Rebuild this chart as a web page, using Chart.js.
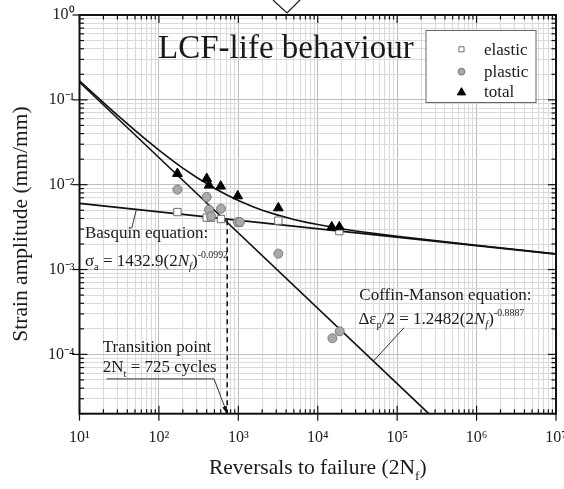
<!DOCTYPE html>
<html><head><meta charset="utf-8">
<script src="https://cdn.jsdelivr.net/npm/chart.js@4/dist/chart.umd.min.js"></script>
<style>html,body{margin:0;padding:0;background:#fff}#wrap{width:564px;height:489px;position:relative}</style>
</head><body><div id="wrap"><canvas id="c"></canvas></div>
<script>
// ---- data ----
const elasticN = [171, 400, 453, 605, 1020, 3190, 18700];
const elasticStrain = [0.00476, 0.00409, 0.00409, 0.00394, 0.00357, 0.00377, 0.00284];
const plasticN = [171, 400, 428, 453, 605, 982, 1050, 3190, 15300, 18900];
const plasticStrain = [0.00875, 0.00716, 0.00508, 0.00424, 0.00522, 0.00363, 0.00363, 0.00154, 0.000155, 0.000187];
const totalN = [171, 400, 428, 600, 982, 3190, 15000, 18700];
const totalStrain = [0.01352, 0.0118, 0.00984, 0.00958, 0.00736, 0.00531, 0.00317, 0.00317];

const basquinN = [10, 1e7];
const basquinStrain = [0.00603, 0.00152];
const coffinN = [10, 2.5e5];
const coffinStrain = [0.1613, 2e-5];
const totalFitN = [10, 15, 20, 30, 50, 70, 100, 150, 200, 300, 500, 700, 1000, 1500, 2000, 3000, 5000, 7000, 1e4, 2e4, 3e4, 5e4, 1e5, 1e6, 1e7];
const totalFitStrain = [0.167, 0.1182, 0.0927, 0.0662, 0.0437, 0.0336, 0.0256, 0.01914, 0.0157, 0.01215, 0.00907, 0.00765, 0.00651, 0.00554, 0.00501, 0.00444, 0.00389, 0.00362, 0.00339, 0.00302, 0.00285, 0.00267, 0.00246, 0.00193, 0.00153];
const transitionN = [725, 725];
const transitionStrain = [0.0038, 2e-5];

const xTickLabels = ['10¹', '10²', '10³', '10⁴', '10⁵', '10⁶', '10⁷'];
const xTickExps = [1, 2, 3, 4, 5, 6, 7];
const yTickLabels = ['10⁻⁴', '10⁻³', '10⁻²', '10⁻¹', '10⁰'];
const yTickExps = [-4, -3, -2, -1, 0];
const legendLabels = ['elastic', 'plastic', 'total'];

const pts = (xs, ys) => xs.map((v, i) => ({x: v, y: ys[i]}));
const SERIF = '"Liberation Serif", "Times New Roman", serif';

function decadeOf(v) {
  const e = Math.round(Math.log10(v));
  return Math.abs(v / Math.pow(10, e) - 1) < 1e-6 ? e : null;
}
function buildLogTicks(scale, min, max) {
  const t = [];
  for (let e = Math.floor(Math.log10(min)); e <= Math.ceil(Math.log10(max)); e++) {
    for (let s = 1; s <= 9; s++) {
      const v = parseFloat((s * Math.pow(10, e)).toPrecision(6));
      if (v >= min * 0.9999 && v <= max * 1.0001) t.push({value: v, major: s === 1});
    }
  }
  scale.ticks = t;
}

const styles = {
  elastic: {pointStyle: 'rect', bg: '#ffffff', border: '#6e6e6e', r: 5.2, lr: 3.6},
  plastic: {pointStyle: 'circle', bg: '#a9a9a9', border: '#7a7a7a', r: 4.5, lr: 3.4},
  total: {pointStyle: 'triangle', bg: '#000000', border: '#000000', r: 5.6, lr: 4.8}
};

function rich(ctx, x, y, parts, size) {
  let cx = x;
  ctx.textBaseline = 'alphabetic';
  ctx.textAlign = 'left';
  for (const p of parts) {
    let fs = size, dy = 0;
    if (p.sub) { fs = size * 0.62; dy = size * 0.26; }
    if (p.sup) { fs = size * 0.58; dy = -size * 0.45; }
    ctx.font = (p.it ? 'italic ' : '') + fs + 'px ' + SERIF;
    ctx.fillText(p.t, cx, y + dy);
    cx += ctx.measureText(p.t).width;
  }
  return cx;
}

const decor = {
  id: 'decor',
  beforeDatasetsDraw(chart) {
    const {ctx, chartArea: a, scales: {x, y}} = chart;
    ctx.save();
    ctx.strokeStyle = '#111';
    ctx.lineWidth = 1.2;
    const seg = (x1, y1, x2, y2) => { ctx.beginPath(); ctx.moveTo(x1, y1); ctx.lineTo(x2, y2); ctx.stroke(); };
    x.ticks.forEach(t => {
      const p = x.getPixelForValue(t.value);
      const maj = decadeOf(t.value) !== null;
      const len = maj ? 8 : 4.5;
      seg(p, a.bottom, p, a.bottom - len);
      if (maj) seg(p, a.bottom, p, a.bottom + 7);
      seg(p, a.top, p, a.top + len);
    });
    y.ticks.forEach(t => {
      const p = y.getPixelForValue(t.value);
      const maj = decadeOf(t.value) !== null;
      const len = maj ? 8 : 4.5;
      seg(a.left, p, a.left + len, p);
      if (maj) seg(a.left, p, a.left - 7, p);
      seg(a.right, p, a.right - len, p);
    });
    ctx.lineWidth = 2;
    ctx.strokeRect(a.left, a.top, a.right - a.left, a.bottom - a.top);
    ctx.restore();
  },
  afterDraw(chart) {
    const {ctx, chartArea: a, scales: {x, y}} = chart;
    const P = (xv, yv) => [x.getPixelForValue(xv), y.getPixelForValue(yv)];
    ctx.save();
    ctx.fillStyle = '#1a1a1a';
    ctx.strokeStyle = '#1a1a1a';

    // chevron at top
    ctx.lineWidth = 1.2;
    ctx.beginPath(); ctx.moveTo(273, 0); ctx.lineTo(287, 13); ctx.lineTo(300, 0); ctx.stroke();

    // big title inside plot
    let q = P(97.5, 0.308);
    ctx.font = '33px ' + SERIF; ctx.textAlign = 'left'; ctx.textBaseline = 'alphabetic';
    ctx.fillText('LCF-life behaviour', q[0], q[1]);

    // Basquin
    q = P(11.7, 2.33e-3);
    rich(ctx, q[0], q[1], [{t: 'Basquin equation:'}], 17);
    q = P(11.7, 1.10e-3);
    rich(ctx, q[0], q[1], [{t: 'σ'}, {t: 'a', sub: 1}, {t: ' = 1432.9(2'}, {t: 'N', it: 1}, {t: 'f', sub: 1, it: 1}, {t: ')'}, {t: '-0.0992', sup: 1}], 17);
    // Coffin-Manson
    q = P(3.34e4, 4.32e-4);
    rich(ctx, q[0], q[1], [{t: 'Coffin-Manson equation:'}], 17);
    q = P(3.25e4, 2.29e-4);
    rich(ctx, q[0], q[1], [{t: 'Δε'}, {t: 'p', sub: 1}, {t: '/2 = 1.2482(2'}, {t: 'N', it: 1}, {t: 'f', sub: 1, it: 1}, {t: ')'}, {t: '-0.8887', sup: 1}], 17);
    // Transition
    q = P(19.6, 1.06e-4);
    rich(ctx, q[0], q[1], [{t: 'Transition point'}], 17);
    q = P(19.6, 6.15e-5);
    rich(ctx, q[0], q[1], [{t: '2N'}, {t: 't', sub: 1}, {t: ' = 725 cycles'}], 17);

    // leader lines
    ctx.lineWidth = 1;
    ctx.strokeStyle = '#333';
    const poly = (arr) => { ctx.beginPath(); arr.forEach((p, i) => { const c = P(p[0], p[1]); i ? ctx.lineTo(c[0], c[1]) : ctx.moveTo(c[0], c[1]); }); ctx.stroke(); };
    poly([[45.4, 3.05e-3], [52, 5.1e-3]]);
    poly([[1.22e5, 2.06e-4], [5.0e4, 8.3e-5]]);
    poly([[22.0, 5.14e-5], [494, 5.14e-5], [725, 2e-5]]);
    // arrow head at transition
    const s = P(494, 5.14e-5), e = P(725, 2e-5);
    const ang = Math.atan2(e[1] - s[1], e[0] - s[0]);
    ctx.fillStyle = '#111';
    ctx.beginPath();
    ctx.moveTo(e[0], e[1]);
    ctx.lineTo(e[0] - 8 * Math.cos(ang - 0.3), e[1] - 8 * Math.sin(ang - 0.3));
    ctx.lineTo(e[0] - 8 * Math.cos(ang + 0.3), e[1] - 8 * Math.sin(ang + 0.3));
    ctx.closePath(); ctx.fill();

    // axis titles
    ctx.fillStyle = '#1a1a1a';
    const TS = 21.5;
    const parts = [{t: 'Reversals to failure (2N'}, {t: 'f', sub: 1}, {t: ')'}];
    let w = 0;
    parts.forEach(p => { ctx.font = (p.sub ? TS * 0.62 : TS) + 'px ' + SERIF; w += ctx.measureText(p.t).width; });
    rich(ctx, (a.left + a.right) / 2 - w / 2, 474, parts, TS);
    ctx.save();
    ctx.translate(21, 224);
    ctx.rotate(-Math.PI / 2);
    ctx.font = TS + 'px ' + SERIF; ctx.textAlign = 'center'; ctx.textBaseline = 'middle';
    ctx.fillText('Strain amplitude (mm/mm)', 0, 0);
    ctx.restore();

    // legend box
    const bx = a.right - 130.5, by = a.top + 15, bw = 110, bh = 72;
    ctx.fillStyle = '#fff';
    ctx.fillRect(bx, by, bw, bh);
    ctx.strokeStyle = '#666'; ctx.lineWidth = 1;
    ctx.strokeRect(bx + 0.5, by + 0.5, bw, bh);
    const keys = ['elastic', 'plastic', 'total'];
    const rowsM = [19.3, 41.7, 62.5];
    const rowsT = [24.5, 46.7, 67];
    keys.forEach((k, i) => {
      const st = styles[k];
      ctx.fillStyle = st.bg; ctx.strokeStyle = st.border; ctx.lineWidth = 1;
      Chart.helpers.drawPoint(ctx, {pointStyle: st.pointStyle, radius: st.lr, rotation: 0, borderWidth: 1}, bx + 36, by + rowsM[i]);
      ctx.fillStyle = '#1a1a1a';
      ctx.font = '17px ' + SERIF; ctx.textAlign = 'left'; ctx.textBaseline = 'alphabetic';
      ctx.fillText(legendLabels[i], bx + 58.5, by + rowsT[i]);
    });
    ctx.restore();
  }
};

const scatterDs = (label, xs, ys, st, order) => ({
  label, data: pts(xs, ys), showLine: false, order,
  pointStyle: st.pointStyle, pointRadius: st.r, pointHoverRadius: st.r,
  backgroundColor: st.bg, borderColor: st.border, borderWidth: 1
});
const lineDs = (label, xs, ys, extra) => Object.assign({
  label, data: pts(xs, ys), showLine: true, pointRadius: 0, pointHoverRadius: 0,
  borderColor: '#111', borderWidth: 1.6, backgroundColor: '#111', fill: false, order: 10, tension: 0
}, extra || {});

const gridColor = c => (c.tick && decadeOf(c.tick.value) !== null) ? '#bdbdbd' : '#dadada';

new Chart(document.getElementById('c'), {
  type: 'scatter',
  data: {
    datasets: [
      scatterDs('total', totalN, totalStrain, styles.total, 1),
      scatterDs('plastic', plasticN, plasticStrain, styles.plastic, 2),
      scatterDs('elastic', elasticN, elasticStrain, styles.elastic, 3),
      lineDs('Basquin', basquinN, basquinStrain),
      lineDs('Coffin-Manson', coffinN, coffinStrain),
      lineDs('Total fit', totalFitN, totalFitStrain),
      lineDs('Transition', transitionN, transitionStrain, {borderDash: [5, 4], borderWidth: 1.5})
    ]
  },
  options: {
    responsive: true,
    maintainAspectRatio: false,
    animation: false,
    events: [],
    layout: {padding: {left: 0, right: 8, top: 15, bottom: 0}},
    plugins: {legend: {display: false}, tooltip: {enabled: false}, title: {display: false}},
    scales: {
      x: {
        type: 'logarithmic', position: 'bottom', min: 10, max: 1e7,
        afterBuildTicks: s => buildLogTicks(s, 10, 1e7),
        afterFit: s => { s.height = 75.3; s.paddingLeft = 0; s.paddingRight = 0; },
        grid: {drawTicks: false, color: gridColor, lineWidth: 1},
        border: {display: false},
        ticks: {
          autoSkip: false, maxRotation: 0, minRotation: 0, padding: 14, color: '#1a1a1a',
          font: {family: SERIF, size: 16},
          callback: v => { const e = decadeOf(v); const i = xTickExps.indexOf(e); return i >= 0 ? xTickLabels[i] : ''; }
        }
      },
      y: {
        type: 'logarithmic', position: 'left', min: 2e-5, max: 1,
        afterBuildTicks: s => buildLogTicks(s, 2e-5, 1),
        afterFit: s => { s.width = 79.5; s.paddingTop = 0; s.paddingBottom = 0; },
        grid: {drawTicks: false, color: gridColor, lineWidth: 1},
        border: {display: false},
        ticks: {
          autoSkip: false, padding: 5, color: '#1a1a1a',
          font: {family: SERIF, size: 16},
          callback: v => { const e = decadeOf(v); const i = yTickExps.indexOf(e); return i >= 0 ? yTickLabels[i] : ''; }
        }
      }
    }
  },
  plugins: [decor]
});
</script>
</body></html>
